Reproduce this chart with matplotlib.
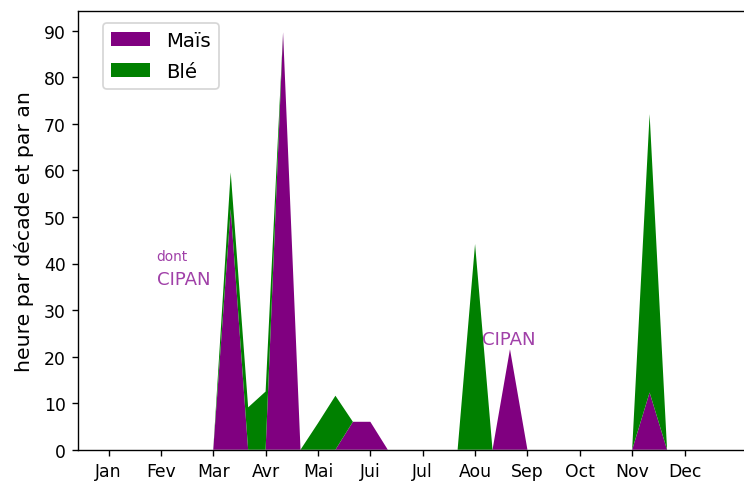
import matplotlib
matplotlib.use("Agg")
import matplotlib.pyplot as plt
import numpy as np

# heures par décade (36 décades dans l'année)
decades = np.arange(36)
mois = ["Jan", "Fev", "Mar", "Avr", "Mai", "Jui", "Jul", "Aou", "Sep", "Oct", "Nov", "Dec"]
mais = [0, 0, 0, 0, 0, 0, 0, 51.7, 0, 0, 89.7, 0,
        0, 0, 6.0, 6.0, 0, 0, 0, 0, 0, 0, 0, 21.6,
        0, 0, 0, 0, 0, 0, 0, 12.3, 0, 0, 0, 0]
ble = [0, 0, 0, 0, 0, 0, 0, 7.9, 9.1, 12.5, 0, 0,
       5.7, 11.6, 0, 0, 0, 0, 0, 0, 0, 44.2, 0, 0,
       0, 0, 0, 0, 0, 0, 0, 59.8, 0, 0, 0, 0]

fig = plt.figure(figsize=(6.0, 3.911), dpi=124)
ax = fig.add_axes([0.1048, 0.0707, 672 / 744, 0.904])

ax.stackplot(decades, mais, ble, labels=["Maïs", "Blé"], colors=["purple", "green"])

# annotations CIPAN
ax.text(2.75, 40.8, "dont", color="#a040a8", fontsize=8)
ax.text(2.75, 35.6, "CIPAN", color="#a040a8", fontsize=10.5)
ax.text(21.4, 22.8, "CIPAN", color="#a040a8", fontsize=10.5)

ax.set_xticks(np.arange(0, 36, 3))
ax.set_xticklabels(mois)
ax.set_yticks(np.arange(0, 100, 10))
ax.set_ylabel("heure par décade et par an", fontsize=11.8, labelpad=6)
ax.legend(loc="upper left", bbox_to_anchor=(0.022, 0.996), fontsize=11.5,
          labelspacing=0.6)

fig.savefig("out.png", dpi=124)
